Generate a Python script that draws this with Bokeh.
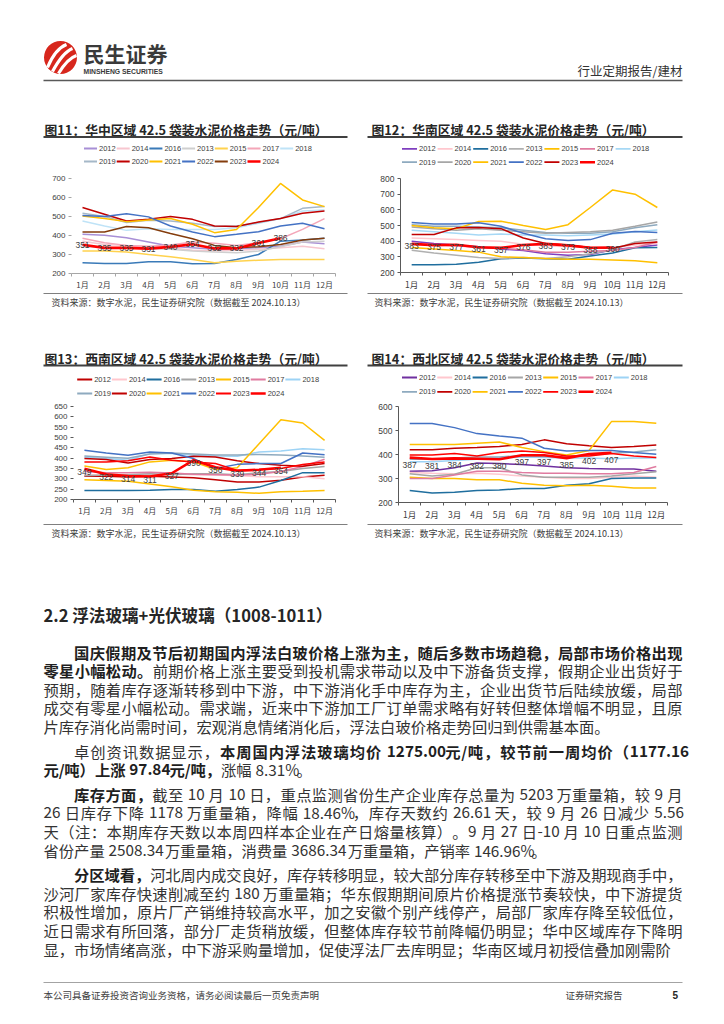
from bokeh.plotting import figure
from bokeh.models import Range1d, FixedTicker
from bokeh.layouts import column, row
from bokeh.embed import file_html
from bokeh.resources import INLINE
from bokeh.core.properties import value

CJK = "Noto Sans CJK SC"

MONTHS = ["1月", "2月", "3月", "4月", "5月", "6月", "7月", "8月", "9月", "10月", "11月", "12月"]
YEARS = ["2012", "2014", "2016", "2013", "2015", "2017", "2018",
         "2019", "2020", "2021", "2022", "2023", "2024"]

# 华中
huazhong = {
    "2012": [406, 401, 388, 366, 344, 336, 327, 330, 336, 344, 366, 357],
    "2014": [370, 353, 348, 341, 336, 323, 318, 322, 327, 336, 344, 330],
    "2016": [256, 253, 253, 262, 262, 251, 253, 274, 300, 370, 376, 385],
    "2013": [344, 336, 336, 330, 327, 318, 313, 309, 318, 341, 366, 370],
    "2015": [318, 318, 313, 300, 288, 274, 256, 265, 270, 274, 274, 274],
    "2017": [385, 362, 348, 344, 350, 366, 359, 348, 362, 383, 432, 489],
    "2018": [476, 450, 427, 436, 432, 432, 432, 441, 464, 489, 529, 534],
    "2019": [517, 500, 468, 480, 476, 464, 447, 450, 468, 489, 543, 552],
    "2020": [547, 512, 476, 485, 500, 485, 450, 447, 471, 489, 517, 529],
    "2021": [503, 490, 473, 482, 489, 459, 415, 432, 547, 674, 587, 552],
    "2022": [505, 500, 515, 498, 450, 418, 394, 406, 420, 450, 464, 436],
    "2023": [418, 418, 447, 441, 411, 383, 348, 336, 341, 353, 376, 385],
    "2024": [351, 335, 335, 331, 340, 354, 332, 332, 361, 386],
}
# 华南
huanan = {
    "2012": [400, 385, 375, 365, 350, 340, 320, 310, 315, 345, 360, 375],
    "2014": [420, 415, 410, 405, 400, 380, 370, 365, 360, 360, 375, 385],
    "2016": [250, 250, 253, 265, 288, 292, 288, 285, 305, 325, 358, 360],
    "2013": [342, 325, 310, 295, 290, 295, 290, 300, 320, 345, 395, 410],
    "2015": [360, 350, 340, 330, 300, 295, 290, 285, 285, 280, 275, 262],
    "2017": [380, 375, 370, 360, 355, 345, 330, 330, 335, 340, 360, 395],
    "2018": [470, 460, 450, 440, 445, 440, 440, 435, 440, 445, 460, 472],
    "2019": [505, 495, 495, 490, 485, 470, 455, 450, 450, 460, 485, 505],
    "2020": [490, 480, 470, 480, 470, 460, 450, 455, 460, 470, 495, 523],
    "2021": [500, 485, 480, 525, 527, 500, 475, 505, 615, 727, 700, 615],
    "2022": [519, 510, 510, 517, 495, 450, 415, 405, 410, 450, 462, 455],
    "2023": [443, 443, 485, 488, 480, 420, 385, 375, 360, 355, 385, 395],
    "2024": [383, 375, 377, 361, 357, 376, 383, 373, 358, 360],
}
# 西南
xinan = {
    "2012": [312, 312, 309, 312, 309, 305, 296, 285, 285, 293, 309, 317],
    "2014": [320, 318, 320, 325, 325, 320, 320, 315, 310, 310, 310, 300],
    "2016": [243, 243, 243, 245, 248, 248, 240, 248, 260, 292, 330, 330],
    "2013": [315, 318, 320, 325, 320, 325, 325, 320, 330, 335, 350, 360],
    "2015": [295, 292, 288, 275, 262, 245, 238, 235, 230, 238, 240, 243],
    "2017": [335, 330, 330, 332, 328, 322, 320, 318, 322, 335, 360, 395],
    "2018": [405, 398, 390, 422, 422, 414, 410, 409, 430, 435, 446, 441],
    "2019": [410, 405, 400, 420, 425, 420, 415, 415, 418, 415, 410, 405],
    "2020": [398, 393, 377, 393, 398, 409, 406, 387, 374, 366, 361, 374],
    "2021": [362, 345, 354, 382, 390, 382, 345, 354, 470, 586, 570, 486],
    "2022": [438, 425, 414, 430, 425, 398, 350, 370, 374, 374, 425, 417],
    "2023": [382, 382, 387, 406, 390, 382, 374, 341, 345, 350, 369, 382],
    "2024": [349, 322, 314, 311, 327, 390, 356, 339, 344, 354],
}
# 西北
xibei = {
    "2012": [330, 332, 345, 365, 362, 358, 352, 345, 342, 340, 340, 330],
    "2014": [325, 322, 320, 322, 318, 310, 305, 300, 300, 305, 310, 305],
    "2016": [250, 240, 243, 250, 252, 258, 258, 272, 278, 300, 302, 302],
    "2013": [320, 310, 318, 345, 345, 315, 305, 305, 305, 310, 320, 328],
    "2015": [305, 300, 300, 295, 295, 280, 272, 270, 272, 268, 260, 260],
    "2017": [300, 300, 315, 330, 330, 325, 322, 322, 320, 320, 325, 350],
    "2018": [370, 370, 375, 380, 385, 390, 388, 385, 385, 382, 385, 385],
    "2019": [380, 380, 385, 390, 390, 395, 392, 390, 400, 405, 410, 420],
    "2020": [420, 420, 426, 429, 433, 442, 461, 445, 436, 429, 433, 440],
    "2021": [442, 442, 442, 447, 452, 429, 412, 398, 417, 537, 537, 530],
    "2022": [529, 529, 512, 487, 477, 468, 426, 415, 417, 417, 408, 401],
    "2023": [398, 398, 404, 394, 408, 415, 408, 394, 394, 404, 394, 387],
    "2024": [387, 381, 384, 382, 380, 397, 397, 385, 402, 407],
}

COLORS_11 = ["#a88fd6", "#f7c6cf", "#3a7ab8", "#cfcfcf", "#ffd24d", "#f4a6b8", "#bfe3f7",
             "#a5b8c8", "#c00000", "#ffc000", "#4472c4", "#843c0c", "#ff0000"]
COLORS_12 = ["#7f3fbf", "#ffc7ce", "#1f6e9e", "#b0b0b0", "#ffc000", "#e07ba0", "#a6d8f5",
             "#8eaabf", "#a6a6a6", "#ffc000", "#4472c4", "#c00000", "#ff0000"]
COLORS_13 = ["#c00000", "#ffc7ce", "#1f6e9e", "#a6a6a6", "#ffc000", "#e07ba0", "#9dd3f5",
             "#8eaabf", "#c00000", "#ffc000", "#4472c4", "#ff0000", "#ff0000"]
COLORS_14 = ["#7030a0", "#ffc7ce", "#1f6e9e", "#a6a6a6", "#ffc000", "#e07ba0", "#9dd3f5",
             "#8eaabf", "#c00000", "#ffc000", "#4472c4", "#ff0000", "#ff0000"]

TITLES = ["图11：华中区域 42.5 袋装水泥价格走势（元/吨）",
          "图12：华南区域 42.5 袋装水泥价格走势（元/吨）",
          "图13：西南区域 42.5 袋装水泥价格走势（元/吨）",
          "图14：西北区域 42.5 袋装水泥价格走势（元/吨）"]
SOURCE = "资料来源：数字水泥，民生证券研究院（数据截至 2024.10.13）"

HEADING = "2.2 浮法玻璃+光伏玻璃（1008-1011）"
BODY = [
    [[("国庆假期及节后初期国内浮法白玻价格上涨为主，随后多数市场趋稳，局部市场价格出现", True)],
     [("零星小幅松动。", True), ("前期价格上涨主要受到投机需求带动以及中下游备货支撑，假期企业出货好于", False)],
     [("预期，随着库存逐渐转移到中下游，中下游消化手中库存为主，企业出货节后陆续放缓，局部", False)],
     [("成交有零星小幅松动。需求端，近来中下游加工厂订单需求略有好转但整体增幅不明显，且原", False)],
     [("片库存消化尚需时间，宏观消息情绪消化后，浮法白玻价格走势回归到供需基本面。", False)]],
    [[("卓创资讯数据显示，", False), ("本周国内浮法玻璃均价 1275.00 元/吨，较节前一周均价（1177.16", True)],
     [("元/吨）上涨 97.84 元/吨，", True), ("涨幅 8.31%。", False)]],
    [[("库存方面，", True), ("截至 10 月 10 日，重点监测省份生产企业库存总量为 5203 万重量箱，较 9 月", False)],
     [("26 日库存下降 1178 万重量箱，降幅 18.46%，库存天数约 26.61 天，较 9 月 26 日减少 5.56", False)],
     [("天（注：本期库存天数以本周四样本企业在产日熔量核算）。9 月 27 日-10 月 10 日重点监测", False)],
     [("省份产量 2508.34 万重量箱，消费量 3686.34 万重量箱，产销率 146.96%。", False)]],
    [[("分区域看，", True), ("河北周内成交良好，库存转移明显，较大部分库存转移至中下游及期现商手中，", False)],
     [("沙河厂家库存快速削减至约 180 万重量箱；华东假期期间原片价格提涨节奏较快，中下游提货", False)],
     [("积极性增加，原片厂产销维持较高水平，加之安徽个别产线停产，局部厂家库存降至较低位，", False)],
     [("近日需求有所回落，部分厂走货稍放缓，但整体库存较节前降幅仍明显；华中区域库存下降明", False)],
     [("显，市场情绪高涨，中下游采购量增加，促使浮法厂去库明显；华南区域月初授信叠加刚需阶", False)]],
]


def canvas(y0, y1):
    c = figure(frame_width=724, frame_height=y1 - y0, x_range=Range1d(0, 724),
               y_range=Range1d(y1, y0), x_axis_location=None, y_axis_location=None,
               min_border=0, output_backend="svg", toolbar_location=None)
    c.grid.visible = False
    c.outline_line_color = None
    return c


def txt(c, x, y, s, size, color="#333333", bold=False, align="left", font=CJK):
    c.text(x=[x], y=[y], text=[s], text_font=value(font), text_font_size=value(size),
           text_color=color, text_align=align, text_baseline="middle",
           text_font_style="bold" if bold else "normal")


def seg(c, x0, y0, x1, y1, color, w):
    c.segment(x0=[x0], y0=[y0], x1=[x1], y1=[y1], line_color=color, line_width=w)


def legend(c, colors, x0, ys, pitch, gw):
    sx0, sx1, sy, cols, widths, tx, ty = [], [], [], [], [], [], []
    for i, (yr, col) in enumerate(zip(YEARS, colors)):
        r, k = divmod(i, 7)
        x = x0 + k * pitch
        sx0.append(x)
        sx1.append(x + gw)
        sy.append(ys[r])
        cols.append(col)
        widths.append(2.6 if yr == "2024" else 1.8)
        tx.append(x + gw + 2)
        ty.append(ys[r])
    c.segment(x0=sx0, y0=sy, x1=sx1, y1=sy, line_color=cols, line_width=widths)
    c.text(x=tx, y=ty, text=YEARS, text_font=value("Liberation Sans"),
           text_font_size=value("7.5px"), text_color="#404040", text_baseline="middle")


def make_chart(data, colors, ylo, yhi, ystep, fw, fh, bl, br, bt, bb,
               yline, ldy, tick_col, lab_size):
    xs = list(range(1, 13))
    p = figure(frame_width=fw, frame_height=fh, min_border_left=bl, min_border_right=br,
               min_border_top=bt, min_border_bottom=bb, x_range=Range1d(0.5, 12.5),
               y_range=Range1d(ylo, yhi), output_backend="svg", toolbar_location=None)
    p.grid.visible = False
    p.outline_line_color = None
    for yr, col in zip(YEARS, colors):
        vals = data[yr]
        p.line(xs[:len(vals)], vals, line_color=col,
               line_width=2.6 if yr == "2024" else 1.5)
    v24 = data["2024"]
    p.text(x=xs[:len(v24)], y=v24, text=[str(v) for v in v24], text_align="center",
           text_baseline="middle", y_offset=ldy, text_font=value("Liberation Sans"),
           text_font_size=value("8.5px"), text_color="#404040")
    xa = p.xaxis[0]
    xa.ticker = FixedTicker(ticks=xs, minor_ticks=[i + 0.5 for i in range(13)])
    xa.major_label_overrides = {i + 1: m for i, m in enumerate(MONTHS)}
    xa.major_tick_line_color = None
    xa.major_tick_out = 3
    xa.minor_tick_in = 0
    xa.minor_tick_out = 3
    xa.minor_tick_line_color = tick_col
    xa.axis_line_color = tick_col
    xa.major_label_standoff = 2
    xa.major_label_text_font = CJK
    xa.major_label_text_font_size = lab_size
    xa.major_label_text_color = "#404040"
    ya = p.yaxis[0]
    ya.ticker = FixedTicker(ticks=list(range(ylo, yhi + 1, ystep)))
    ya.axis_line_color = yline
    ya.major_tick_in = 0
    ya.major_tick_out = 3
    ya.major_tick_line_color = tick_col
    ya.minor_tick_line_color = None
    ya.major_label_standoff = 3
    ya.major_label_text_font = "Liberation Sans"
    ya.major_label_text_font_size = lab_size
    ya.major_label_text_color = "#404040"
    return p


f11 = make_chart(huazhong, COLORS_11, 200, 700, 100, 264, 95, 71, 27, 6, 20,
                 None, 0, "#a6a6a6", "8px")
f12 = make_chart(huanan, COLORS_12, 200, 800, 100, 268, 94, 38, 56, 10, 17,
                 "#595959", 2, "#595959", "8.5px")
f13 = make_chart(xinan, COLORS_13, 200, 650, 50, 262, 93, 73, 27, 6, 23,
                 None, 3, "#595959", "8px")
f14 = make_chart(xibei, COLORS_14, 200, 600, 100, 269, 96, 36, 57, 5, 21,
                 "#595959", 7, "#595959", "8.5px")

# ---- header canvas (0..168) ----
c0 = canvas(0, 168)
c0.circle(x=[60], y=[57], radius=16.5, fill_color="#d7271d", line_color=None)
c0.bezier(x0=[47, 52, 58], y0=[67, 71, 73], x1=[66, 72, 76], y1=[44, 48, 55],
          cx0=[52, 58, 64], cy0=[55, 60, 63], cx1=[58, 64, 70], cy1=[47, 51, 57],
          line_color="white", line_width=3.2)
txt(c0, 83, 52, "民生证券", "21px", "#3a3a3a", True)
txt(c0, 83, 71, "MINSHENG SECURITIES", "6.8px", "#3a3a3a", True, font="Liberation Sans")
txt(c0, 682, 70, "行业定期报告/建材", "12.5px", "#333333", False, "right")
seg(c0, 43, 80, 682, 80, "#595959", 1.5)
txt(c0, 44, 129, TITLES[0], "12.8px", "#262626", True)
txt(c0, 371, 129, TITLES[1], "12.8px", "#262626", True)
seg(c0, 43, 136.5, 347, 136.5, "#404040", 1.8)
seg(c0, 367, 136.5, 682, 136.5, "#404040", 1.8)
legend(c0, COLORS_11, 83.5, [148, 161], 32.7, 13)
legend(c0, COLORS_12, 401.5, [148.3, 161.7], 35.6, 15)

# ---- middle canvas (289..397) ----
c1 = canvas(289, 397)
seg(c1, 43, 290, 347, 290, "#7f7f7f", 1)
seg(c1, 367, 290, 682, 290, "#7f7f7f", 1)
txt(c1, 51, 299, SOURCE, "9px", "#404040")
txt(c1, 374, 299, SOURCE, "9px", "#404040")
txt(c1, 44, 355, TITLES[2], "12.8px", "#262626", True)
txt(c1, 371, 355, TITLES[3], "12.8px", "#262626", True)
seg(c1, 43, 362, 347, 362, "#404040", 1.8)
seg(c1, 367, 362, 682, 362, "#404040", 1.8)
legend(c1, COLORS_13, 76.7, [376, 390], 34.7, 15)
legend(c1, COLORS_14, 401.5, [374, 388.3], 35.3, 15)

# ---- bottom canvas (519..1024) ----
c2 = canvas(519, 1024)
seg(c2, 43, 521, 347, 521, "#7f7f7f", 1)
seg(c2, 367, 521, 682, 521, "#7f7f7f", 1)
txt(c2, 51, 530, SOURCE, "9px", "#404040")
txt(c2, 374, 530, SOURCE, "9px", "#404040")
txt(c2, 43, 611, HEADING, "16.6px", "#262626", True)

LATIN_W = {".": 0.26, "%": 0.84, "-": 0.33, "/": 0.36, "+": 0.56}
FS = 15.3


def tokenize(segments):
    toks = []
    for s, bold in segments:
        buf = ""
        for ch in s:
            if ord(ch) < 128 and ch != " ":
                buf += ch
                continue
            if buf:
                toks.append((buf, bold, sum(LATIN_W.get(k, 0.53) for k in buf) * FS, False))
                buf = ""
            if ch == " ":
                toks.append(("", bold, 0.25 * FS, True))
            else:
                toks.append((ch, bold, FS, False))
        if buf:
            toks.append((buf, bold, sum(LATIN_W.get(k, 0.53) for k in buf) * FS, False))
    return toks


norm = {"x": [], "y": [], "t": []}
bold = {"x": [], "y": [], "t": []}
LINE_H = 18.6
PARA_GAP = 6
y = 648
for para in BODY:
    for li, line in enumerate(para):
        x0 = 43 + (2 * FS if li == 0 else 0)
        toks = tokenize(line)
        total = sum(t[2] for t in toks)
        last = li == len(para) - 1
        extra = 0 if last else (682 - x0 - total) / (len(toks) - 1)
        x = x0
        for t, b, w, sp in toks:
            if not sp:
                d = bold if b else norm
                d["x"].append(x)
                d["y"].append(y)
                d["t"].append(t)
            x += w + extra
        y += LINE_H
    y += PARA_GAP

c2.text(x=norm["x"], y=norm["y"], text=norm["t"], text_font=value(CJK),
        text_font_size=value("%.1fpx" % FS), text_color="#333333", text_baseline="middle")
c2.text(x=bold["x"], y=bold["y"], text=bold["t"], text_font=value(CJK),
        text_font_size=value("%.1fpx" % FS), text_color="#1f1f1f", text_baseline="middle",
        text_font_style="bold")

seg(c2, 43, 979, 682, 979, "#8c8c8c", 0.8)
txt(c2, 43, 991, "本公司具备证券投资咨询业务资格，请务必阅读最后一页免责声明", "9.5px", "#404040")
txt(c2, 565, 991, "证券研究报告", "9.5px", "#404040")
txt(c2, 672, 991, "5", "10px", "#262626", True, font="Liberation Sans")

layout = column(c0, row(f11, f12), c1, row(f13, f14), c2)
open("out.html", "w").write(file_html(layout, INLINE))
